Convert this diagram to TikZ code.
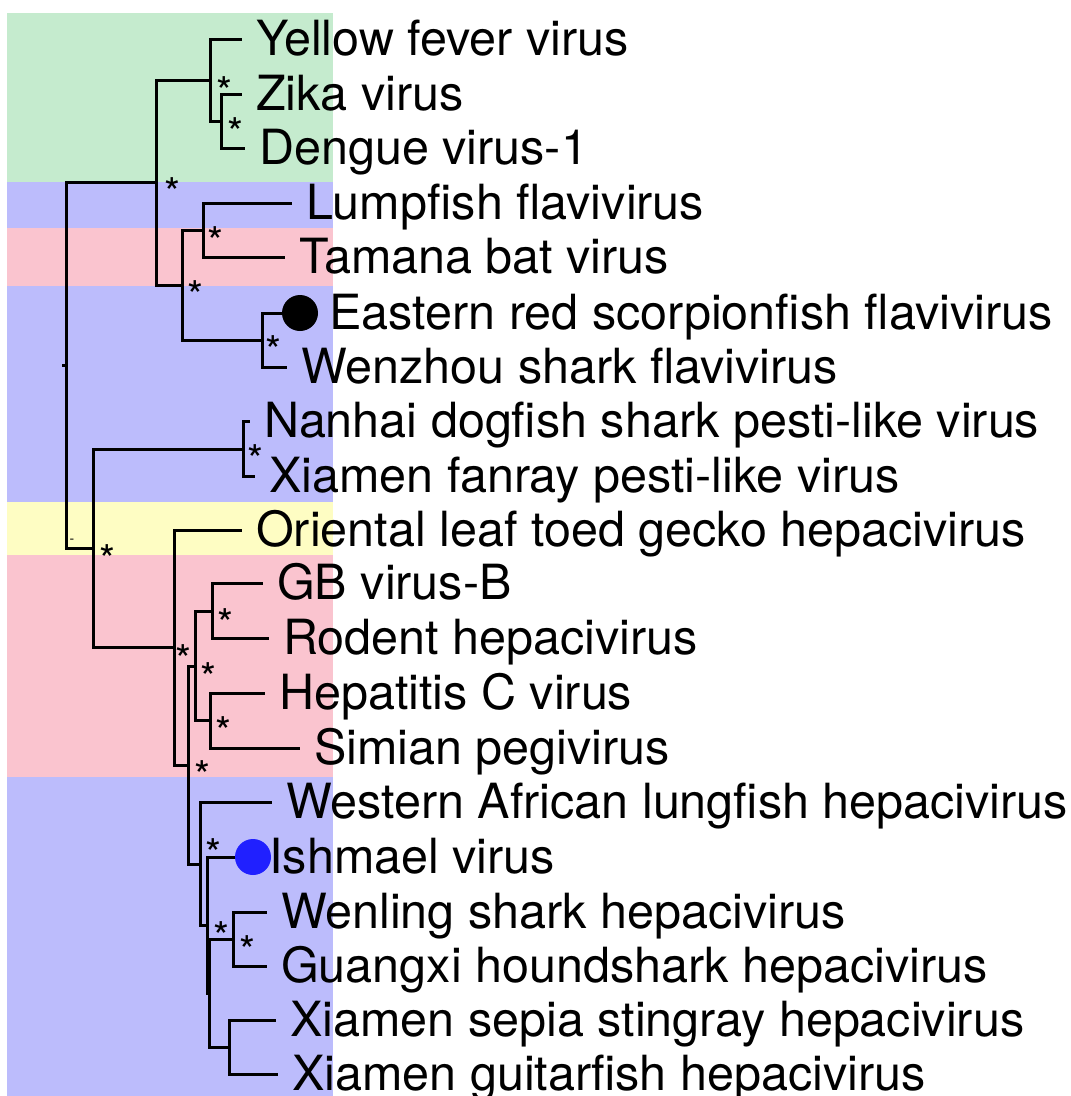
\documentclass[tikz,border=0pt]{standalone}
\usepackage{fontspec}
\setmainfont{TeX Gyre Heros}
\usepackage{tikz}
\usetikzlibrary{positioning}
\definecolor{cladegreen}{RGB}{197,235,206}
\definecolor{cladeblue}{RGB}{188,188,252}
\definecolor{cladepink}{RGB}{250,196,207}
\definecolor{cladeyellow}{RGB}{254,253,195}
\definecolor{dotblue}{RGB}{32,32,255}

\begin{document}
\begin{tikzpicture}[x=1pt,y=-1pt,
    branch/.style={draw=black,line width=3pt},
    taxon/.style={font=\fontsize{48.5}{50}\selectfont,inner sep=0pt,
                  text height=32pt,text depth=0pt,anchor=west},
    support/.style={font=\fontsize{41}{41}\selectfont,inner sep=0pt,yshift=-8.8pt},
    tipdot/.style={circle,inner sep=0pt,minimum size=36pt}]
  \useasboundingbox (0,0) rectangle (1071,1096);
  % clade bands
  \fill[cladegreen]  (7,13)  rectangle (333,182);
  \fill[cladeblue]   (7,182) rectangle (333,228);
  \fill[cladepink]   (7,228) rectangle (333,286);
  \fill[cladeblue]   (7,286) rectangle (333,502);
  \fill[cladeyellow] (7,502) rectangle (333,555);
  \fill[cladepink]   (7,555) rectangle (333,777);
  \fill[cladeblue]   (7,777) rectangle (333,1096);

  % internal nodes
  \coordinate (root) at (62,365);
  \coordinate (r)   at (66,365);
  \coordinate (n1)  at (156,182);
  \coordinate (n2)  at (210,80);
  \coordinate (n3)  at (221,121);
  \coordinate (n4)  at (182,285);
  \coordinate (n5)  at (203,230);
  \coordinate (n6)  at (262,340);
  \coordinate (n7)  at (93,548);
  \coordinate (n8)  at (243,449);
  \coordinate (n9)  at (174,647);
  \coordinate (n10) at (188,765);
  \coordinate (n11) at (195,666);
  \coordinate (n12) at (212,611);
  \coordinate (n13) at (210,720);
  \coordinate (n14) at (200,864);
  \coordinate (n15) at (207,925);
  \coordinate (n16) at (209,993);
  \coordinate (n17) at (233,939);
  \coordinate (n18) at (229,1047);

  % tips
  \coordinate (yfv)   at (242,39);
  \coordinate (zikv)  at (242,94);
  \coordinate (denv)  at (245,148);
  \coordinate (lump)  at (292,203);
  \coordinate (tamv)  at (285,257);
  \node[tipdot,fill=black] (ersf) at (300,313) {};
  \coordinate (wzsf)  at (287,367);
  \coordinate (ndsp)  at (250,421);
  \coordinate (xfpl)  at (255,476);
  \coordinate (olgh)  at (242,530);
  \coordinate (gbvb)  at (263,583);
  \coordinate (rodh)  at (269,638);
  \coordinate (hcv)   at (265,693);
  \coordinate (spgv)  at (300,748);
  \coordinate (walh)  at (272,802);
  \node[tipdot,fill=dotblue] (ishv) at (253,857) {};
  \coordinate (wlsh)  at (267,912);
  \coordinate (gxhh)  at (267,966);
  \coordinate (xssh)  at (276,1020);
  \coordinate (xgfh)  at (278,1074);

  % branches
  \draw[branch] (root) -- (r);
  \draw[branch] (r) |- (n1);
  \draw[branch] (r) |- (n7);
  \draw[branch] (n1) |- (n2);
  \draw[branch] (n1) |- (n4);
  \draw[branch] (n2) |- (yfv);
  \draw[branch] (n2) |- (n3);
  \draw[branch] (n3) |- (zikv);
  \draw[branch] (n3) |- (denv);
  \draw[branch] (n4) |- (n5);
  \draw[branch] (n4) |- (n6);
  \draw[branch] (n5) |- (lump);
  \draw[branch] (n5) |- (tamv);
  \draw[branch] (n6) |- (ersf);
  \draw[branch] (n6) |- (wzsf);
  \draw[branch] (n7) |- (n8);
  \draw[branch] (n7) |- (n9);
  \draw[branch] (n8) |- (ndsp);
  \draw[branch] (n8) |- (xfpl);
  \draw[branch] (n9) |- (olgh);
  \draw[branch] (n9) |- (n10);
  \draw[branch] (n10) |- (n11);
  \draw[branch] (n10) |- (n14);
  \draw[branch] (n11) |- (n12);
  \draw[branch] (n11) |- (n13);
  \draw[branch] (n12) |- (gbvb);
  \draw[branch] (n12) |- (rodh);
  \draw[branch] (n13) |- (hcv);
  \draw[branch] (n13) |- (spgv);
  \draw[branch] (n14) |- (walh);
  \draw[branch] (n14) |- (n15);
  \draw[branch] (n15) |- (ishv);
  \draw[branch] (n15) |- (n16);
  \draw[branch] (n16) |- (n17);
  \draw[branch] (n16) |- (n18);
  \draw[branch] (n17) |- (wlsh);
  \draw[branch] (n17) |- (gxhh);
  \draw[branch] (n18) |- (xssh);
  \draw[branch] (n18) |- (xgfh);

  % support values
  \node[support] (s2)  at (224,83)  {*};
  \node[support] (s3)  at (235,124) {*};
  \node[support] (s1)  at (172,184) {*};
  \node[support] (s5)  at (215,233) {*};
  \node[support] (s4)  at (195,287) {*};
  \node[support] (s6)  at (273,342) {*};
  \node[support] (s8)  at (255,451) {*};
  \node[support] (s7)  at (107,551) {*};
  \node[font=\fontsize{14}{14}\selectfont,inner sep=0pt] (sr) at (72,541) {-};
  \node[support] (s12) at (225,615) {*};
  \node[support] (s9)  at (183,651) {*};
  \node[support] (s11) at (208,669) {*};
  \node[support] (s13) at (223,723) {*};
  \node[support] (s10) at (202,767) {*};
  \node[support] (s14) at (213,845) {*};
  \node[support] (s15) at (221,928) {*};
  \node[support] (s17) at (247,942) {*};

  % taxon labels
  \node[taxon,right=14pt of yfv]  (yfvlab)  {Yellow fever virus};
  \node[taxon,right=14pt of zikv] (zikvlab) {Zika virus};
  \node[taxon,right=14pt of denv] (denvlab) {Dengue virus-1};
  \node[taxon,right=14pt of lump] (lumplab) {Lumpfish flavivirus};
  \node[taxon,right=14pt of tamv] (tamvlab) {Tamana bat virus};
  \node[taxon,right=11pt of ersf] (ersflab) {Eastern red scorpionfish flavivirus};
  \node[taxon,right=14pt of wzsf] (wzsflab) {Wenzhou shark flavivirus};
  \node[taxon,right=14pt of ndsp] (ndsplab) {Nanhai dogfish shark pesti-like virus};
  \node[taxon,right=14pt of xfpl] (xfpllab) {Xiamen fanray pesti-like virus};
  \node[taxon,right=14pt of olgh] (olghlab) {Oriental leaf toed gecko hepacivirus};
  \node[taxon,right=14pt of gbvb] (gbvblab) {GB virus-B};
  \node[taxon,right=14pt of rodh] (rodhlab) {Rodent hepacivirus};
  \node[taxon,right=14pt of hcv]  (hcvlab)  {Hepatitis C virus};
  \node[taxon,right=14pt of spgv] (spgvlab) {Simian pegivirus};
  \node[taxon,right=14pt of walh] (walhlab) {Western African lungfish hepacivirus};
  \node[taxon,right=-2pt of ishv] (ishvlab) {Ishmael virus};
  \node[taxon,right=14pt of wlsh] (wlshlab) {Wenling shark hepacivirus};
  \node[taxon,right=14pt of gxhh] (gxhhlab) {Guangxi houndshark hepacivirus};
  \node[taxon,right=14pt of xssh] (xsshlab) {Xiamen sepia stingray hepacivirus};
  \node[taxon,right=14pt of xgfh] (xgfhlab) {Xiamen guitarfish hepacivirus};
\end{tikzpicture}
\end{document}
